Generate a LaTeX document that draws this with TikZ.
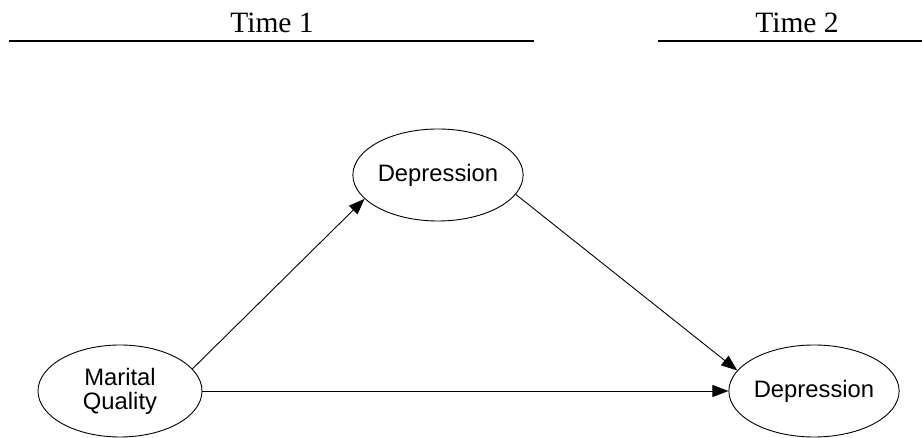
\documentclass[tikz,border=0pt]{standalone}
\usepackage{fontspec}
\setmainfont{Liberation Serif}
\newfontfamily\arialf{Liberation Sans}
\usetikzlibrary{arrows.meta,shapes.geometric}
\begin{document}
\begin{tikzpicture}[x=1pt,y=-1pt,
  var/.style={ellipse,draw,line width=0.9pt,minimum width=164pt,minimum height=92pt,inner sep=0pt,
    font=\arialf\fontsize{23.8}{24}\selectfont,align=center},
  conn/.style={line width=0.9pt,-{Triangle[length=16pt,width=12pt]}},
  hdr/.style={font=\fontsize{29.5}{32}\selectfont,anchor=base,inner sep=0pt},
  hrulestyle/.style={line width=2.4pt}]
\useasboundingbox (0,0) rectangle (922,438);
\node[hdr] (t1) at (272,33) {Time 1};
\node[hdr] (t2) at (797,33) {Time 2};
\coordinate (r1a) at (9,41);
\coordinate (r1b) at (534,41);
\coordinate (r2a) at (658,41);
\coordinate (r2b) at (922,41);
\draw[hrulestyle] (r1a) -- (r1b);
\draw[hrulestyle] (r2a) -- (r2b);
\node[var] (mq) at (120,391) {Marital\\Quality};
\node[var] (d1) at (438,175) {Depression};
\node[var] (d2) at (814,391) {Depression};
\draw[conn] (mq.17.5) -- (d1.198.7);
\draw[conn] (d1.-14) -- (d2.165.6);
\draw[conn] (mq.east) -- (d2.west);
\end{tikzpicture}
\end{document}
